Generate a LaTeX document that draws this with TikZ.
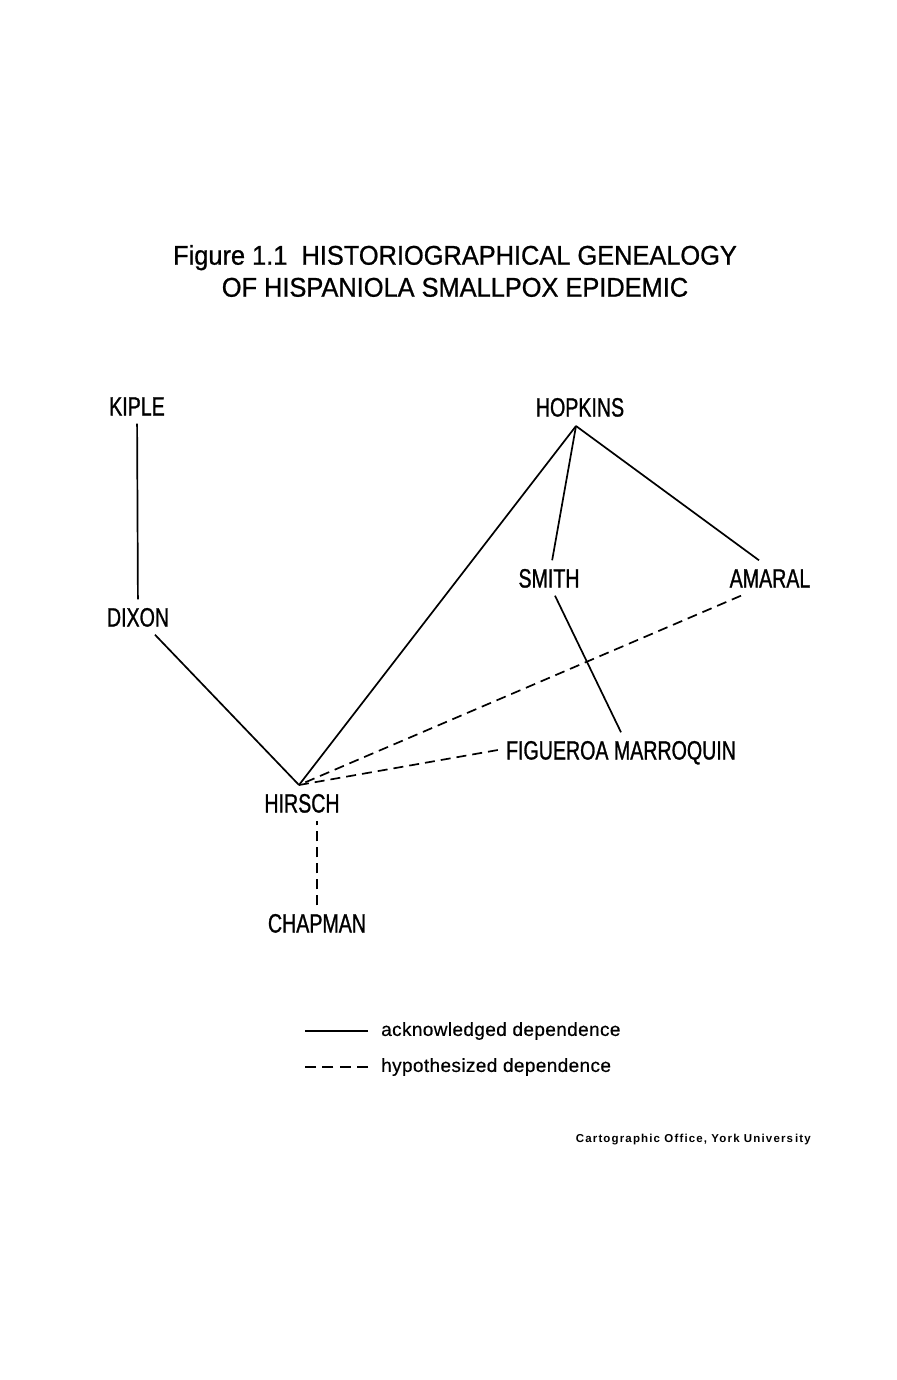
\documentclass[tikz,border=0pt]{standalone}
\usepackage{fontspec}
\setmainfont{Liberation Sans}
\newfontfamily\namefont[FakeStretch=0.74,FakeBold=1]{Liberation Sans}
\newfontfamily\titlefont[FakeStretch=0.94,FakeBold=0.8]{Liberation Sans}
\newfontfamily\legendfont[LetterSpace=2,FakeBold=0.4]{Liberation Sans}
\newfontfamily\creditfont[LetterSpace=10]{Liberation Sans}
\usetikzlibrary{positioning}
\tikzset{author/.style={font=\namefont\fontsize{26.5}{30}\selectfont,inner sep=8pt,text height=19pt,text depth=0pt}}
\tikzset{heading/.style={font=\titlefont\fontsize{27}{32}\selectfont,align=center}}
\tikzset{acknowledged/.style={line width=1.7pt}}
\tikzset{hypothesized/.style={line width=1.7pt,dash pattern=on 10pt off 6pt}}
\tikzset{legendtext/.style={anchor=west,inner sep=0pt,font=\legendfont\fontsize{19}{22}\selectfont}}
\tikzset{credit/.style={anchor=east,inner sep=0pt,font=\creditfont\bfseries\fontsize{11.5}{13}\selectfont}}

\begin{document}
\begin{tikzpicture}[x=1pt,y=-1pt]
    \useasboundingbox (0,0) rectangle (896,1380);

    \node[heading] (title) at (455, 271) {Figure 1.1\ \ HISTORIOGRAPHICAL GENEALOGY\\OF HISPANIOLA SMALLPOX EPIDEMIC};

    \node[author] (kiple)    at (137, 406) {KIPLE};
    \node[author] (dixon)    at (138, 617) {DIXON};
    \node[author] (hopkins)  at (580, 407) {HOPKINS};
    \node[author] (smith)    at (549, 578) {SMITH};
    \node[author] (amaral)   at (770, 578) {AMARAL};
    \node[author] (figueroa) at (621, 750) {FIGUEROA MARROQUIN};
    \node[author] (hirsch)   at (302, 803) {HIRSCH};
    \node[author] (chapman)  at (317, 923) {CHAPMAN};
    \coordinate (hop) at (576, 426);
    \coordinate (hir) at (299, 785);

    \draw[acknowledged] (kiple) -- (dixon);
    \draw[acknowledged] (dixon) -- (hir);
    \draw[acknowledged] (hop) -- (hir);
    \draw[acknowledged] (hop) -- (smith);
    \draw[acknowledged] (hop) -- ([xshift=-11pt]amaral.north);
    \draw[acknowledged] ([xshift=6pt]smith.south) -- (figueroa.north);

    \draw[hypothesized] ([xshift=-29pt]amaral.south) -- (hir);
    \draw[hypothesized] (figueroa.west) -- (hir);
    \draw[hypothesized] (chapman.north) -- (chapman.north |- hirsch.south);

    \node[legendtext] (ack) at (381, 1031) {acknowledged dependence};
    \node[legendtext] (hyp) at (381, 1067) {hypothesized dependence};
    \draw[acknowledged] ([xshift=-13pt]ack.west) -- ++(-63,0);
    \draw[hypothesized,dash pattern=on 11pt off 6.3pt] ([xshift=-13pt]hyp.west) -- ++(-63,0);

    \node[credit] (office) at (811, 1140) {Cartographic Office, York Univers\hspace{2pt}ity};
  \end{tikzpicture}
\end{document}
